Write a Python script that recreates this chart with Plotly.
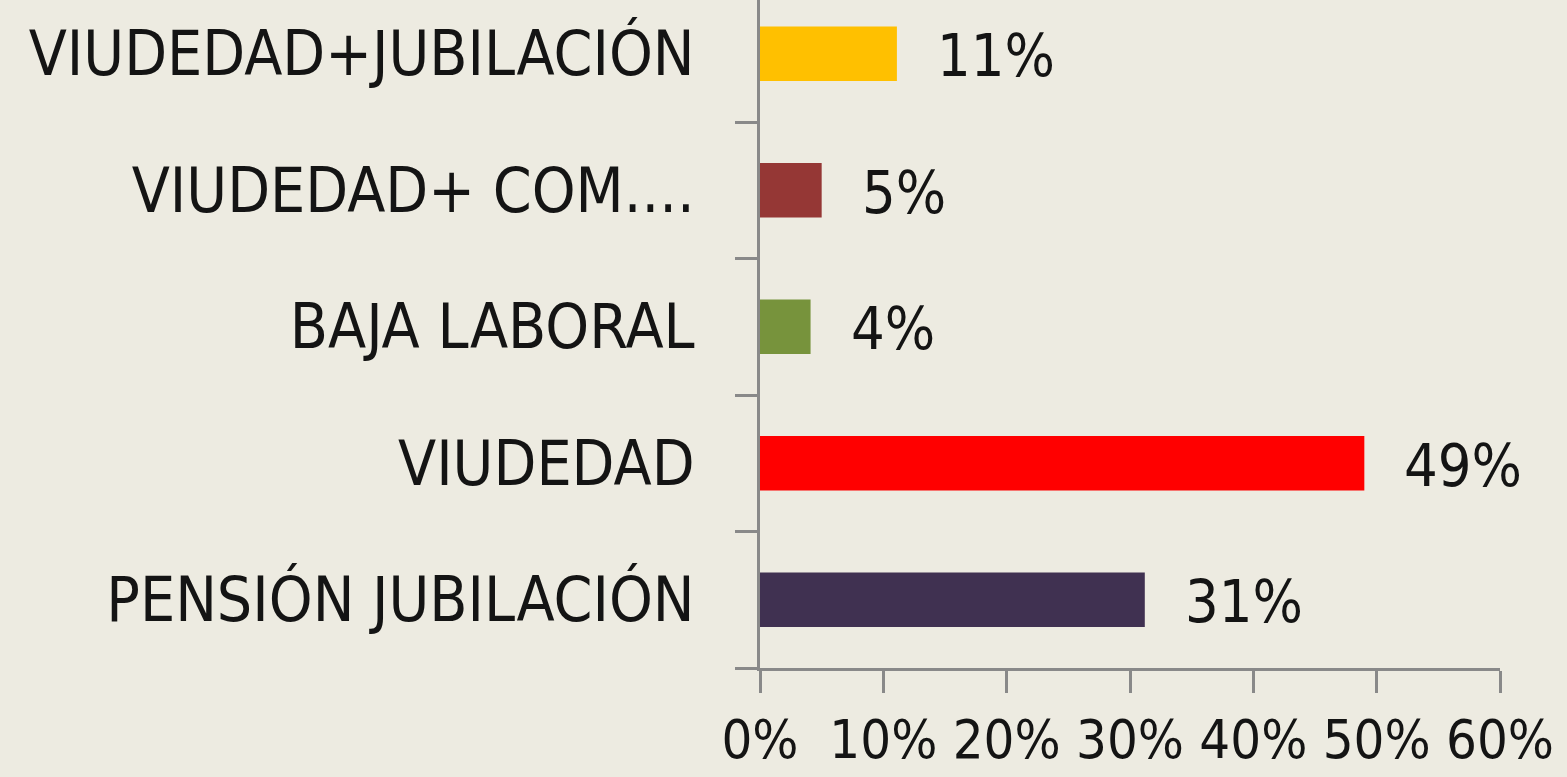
import plotly.graph_objects as go

categories = ["PENSIÓN JUBILACIÓN", "VIUDEDAD", "BAJA LABORAL", "VIUDEDAD+ COM....", "VIUDEDAD+JUBILACIÓN"]
values = [0.312, 0.49, 0.041, 0.05, 0.111]
value_labels = ["31%", "49%", "4%", "5%", "11%"]
colors = ["#403151", "#FF0000", "#77933C", "#953735", "#FFC000"]
x_ticks = [0, 0.1, 0.2, 0.3, 0.4, 0.5, 0.6]
x_ticktext = ["0%", "10%", "20%", "30%", "40%", "50%", "60%"]

BG = "#EDEBE1"
AXIS = "#898989"
FONT = "DejaVu Sans Condensed, Liberation Sans Narrow, sans-serif"
TXT = "#141414"

fig = go.Figure(go.Bar(
    y=categories, x=values, orientation="h",
    marker_color=colors, marker_line_width=0,
    hoverinfo="skip",
))

# étiquettes de valeur à droite des barres
for cat, v, lab in zip(categories, values, value_labels):
    fig.add_annotation(
        x=v, y=cat, text=lab, showarrow=False,
        xanchor="left", yanchor="middle", xshift=38, yshift=-2,
        font=dict(size=59, color=TXT, family=FONT),
    )

fig.update_layout(
    width=1567, height=777,
    margin=dict(l=760, r=67, t=0, b=109),
    plot_bgcolor=BG, paper_bgcolor=BG,
    bargap=0.6, showlegend=False,
    font=dict(family=FONT, color=TXT),
)
fig.update_xaxes(
    range=[0, 0.6], tickvals=x_ticks, ticktext=x_ticktext,
    showgrid=False, zeroline=False, automargin=False,
    showline=True, linecolor=AXIS, linewidth=3,
    ticks="outside", ticklen=22, tickwidth=3, tickcolor=AXIS,
    ticklabelstandoff=0,
    tickfont=dict(size=54, family=FONT, color=TXT),
)
fig.update_yaxes(
    range=[-0.5, 4.394], tickson="boundaries",
    showgrid=False, zeroline=False, automargin=False,
    showline=True, linecolor=AXIS, linewidth=3,
    ticks="outside", ticklen=22, tickwidth=3, tickcolor=AXIS,
    ticklabelstandoff=50,
    tickfont=dict(size=62, family=FONT, color=TXT),
)

fig.write_html("out.html", config={"displayModeBar": False},
               post_script="document.body.style.margin='0';")
